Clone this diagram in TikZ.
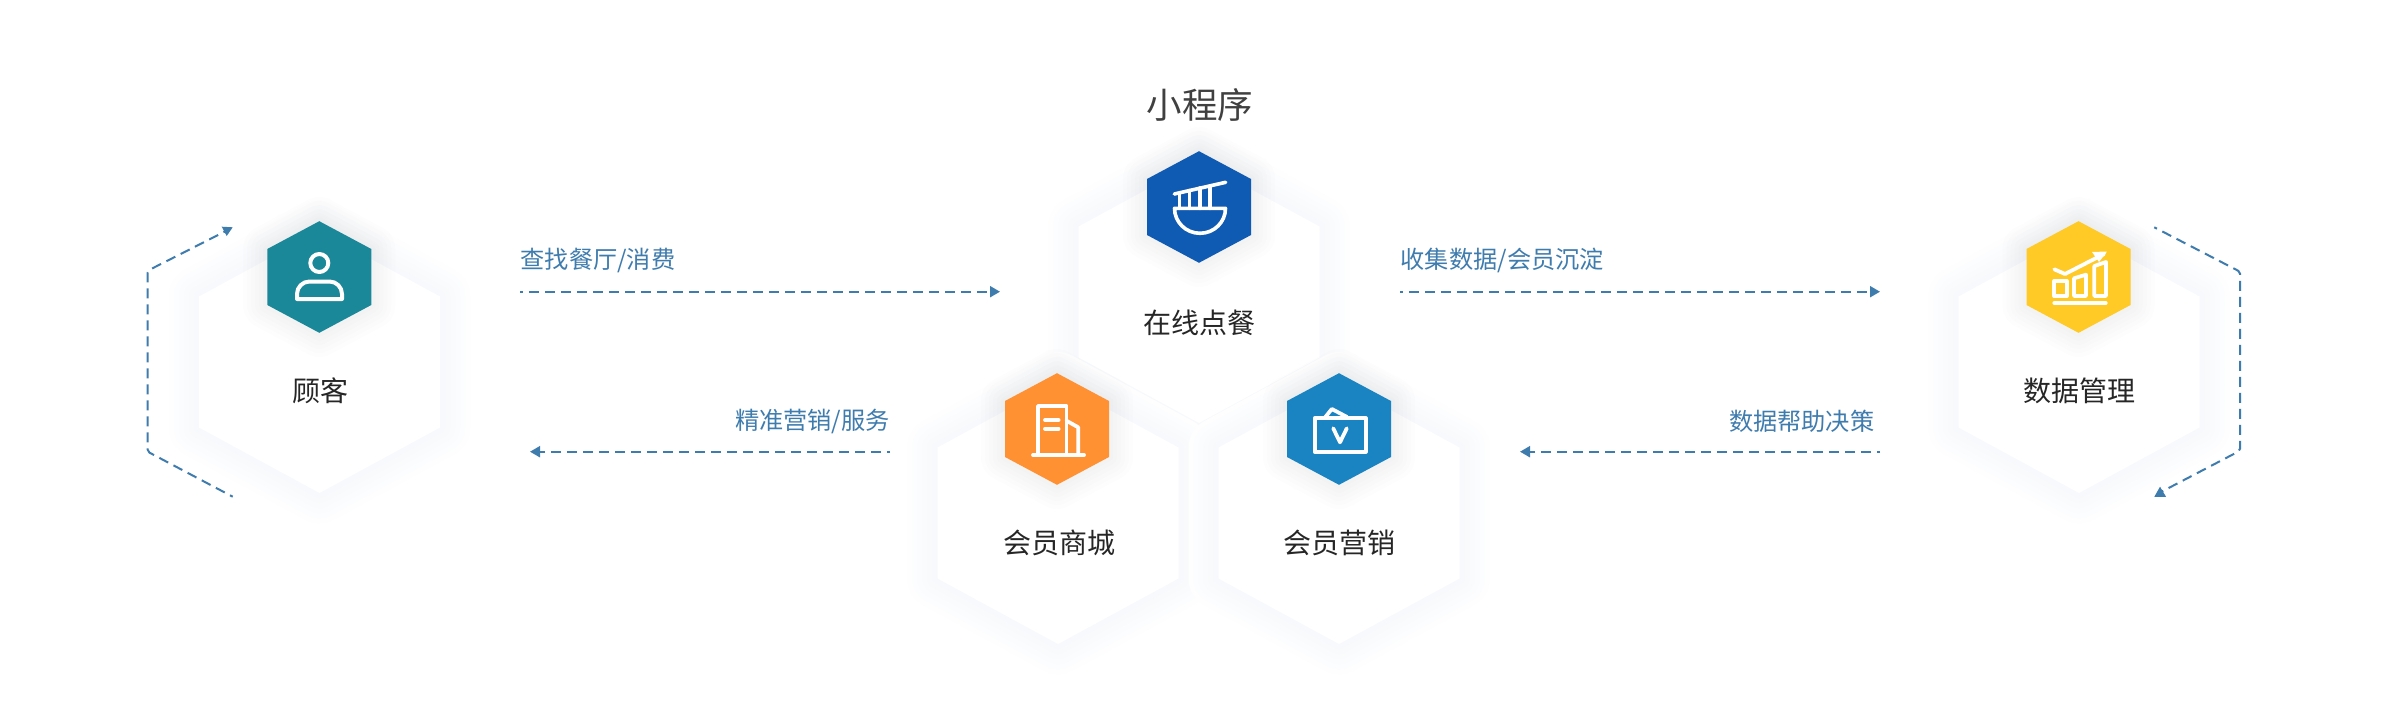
\documentclass[tikz,border=0pt]{standalone}
\usepackage{fontspec}
\setmainfont{Noto Sans CJK SC}
\usetikzlibrary{arrows.meta}
\definecolor{flow}{HTML}{3F7CAE}
\definecolor{ink}{HTML}{262626}
\definecolor{headc}{HTML}{404040}
\definecolor{bsa}{HTML}{FEFEFF}
\definecolor{bsb}{HTML}{FCFDFE}
\definecolor{bsc}{HTML}{FBFCFE}
\definecolor{bsd}{HTML}{FAFBFD}
\definecolor{bse}{HTML}{F8FAFC}
\definecolor{bsf}{HTML}{F7F9FC}
\definecolor{smallsh}{HTML}{6C7688}
\definecolor{cTeal}{HTML}{1A8899}
\definecolor{cNavy}{HTML}{0F5AB2}
\definecolor{cOrange}{HTML}{FF9133}
\definecolor{cBlue}{HTML}{1A83C1}
\definecolor{cYellow}{HTML}{FFC926}
\tikzset{
  flowline/.style={draw=flow,line width=2pt,dash pattern=on 10pt off 6pt,dash phase=7pt},
  flowarrow/.style={flowline,-{Triangle[length=10pt,width=11pt,fill=flow]}},
  fliptip/.style={fill=flow,draw=none},
  flowlabel/.style={text=flow,font=\fontsize{24.2}{25}\selectfont,inner sep=0pt},
  hexlabel/.style={text=ink,font=\fontsize{28}{29}\selectfont,inner sep=0pt},
  headlabel/.style={text=headc,font=\fontsize{35.5}{36}\selectfont,inner sep=0pt},
  iconline/.style={draw=white,line width=3.4pt,line cap=round,line join=round},
}
\newcommand{\bighexpath}[1]{(#1)++(0,-131)--++(120.5,65.5)--++(0,131)--++(-120.5,65.5)--++(-120.5,-65.5)--++(0,-131)--cycle}
\newcommand{\smallhexpath}[1]{(#1)++(0,-55.8)--++(52,27.8)--++(0,56)--++(-52,27.8)--++(-52,-27.8)--++(0,-56)--cycle}
\newcommand{\bigshadow}[1]{%
  \begin{scope}[yshift=-6pt]
    \foreach \r/\c in {30/bsa,25/bsb,20/bsc,15/bsd,10/bse,5/bsf}{\draw[\c,line width=2*\r pt,line join=round] \bighexpath{#1};}
  \end{scope}}
\newcommand{\bighex}[1]{\fill[white] \bighexpath{#1};}
\newcommand{\smallhex}[2]{%
  \begin{scope}[yshift=-6pt]
    \foreach \r in {4,8,...,24}{\draw[smallsh,opacity=0.012,line width=2*\r pt,line join=round] \smallhexpath{#1};}
  \end{scope}
  \fill[#2] \smallhexpath{#1};}
\begin{document}
\begin{tikzpicture}[x=1pt,y=-1pt]
\useasboundingbox[fill=white] (0,0) rectangle (2400,720);
% centres
\coordinate (bCust) at (319.5,362);
\coordinate (bOnline) at (1199,292);
\coordinate (bShop) at (1058,513);
\coordinate (bMark) at (1339,513);
\coordinate (bData) at (2079,362);
\coordinate (sCust) at (319.3,277);
\coordinate (sOnline) at (1199,207);
\coordinate (sShop) at (1057,429);
\coordinate (sMark) at (1339,429);
\coordinate (sData) at (2078.5,277);
% big hexagons: soft shadows first, then the white faces
\bigshadow{bOnline}
\bigshadow{bShop}
\bigshadow{bMark}
\bigshadow{bCust}
\bigshadow{bData}
\bighex{bOnline}
\bighex{bShop}
\bighex{bMark}
\bighex{bCust}
\bighex{bData}
% icon hexagons
\smallhex{sOnline}{cNavy}
\smallhex{sShop}{cOrange}
\smallhex{sMark}{cBlue}
\smallhex{sCust}{cTeal}
\smallhex{sData}{cYellow}
% labels
\node[headlabel] (head) at (1200,105) {小程序};
\node[hexlabel] (lCust) at (320,391) {顾客};
\node[hexlabel] (lOnline) at (1199,323) {在线点餐};
\node[hexlabel] (lShop) at (1059.5,543) {会员商城};
\node[hexlabel] (lMark) at (1339.5,543) {会员营销};
\node[hexlabel] (lData) at (2079,391) {数据管理};
\node[flowlabel,anchor=west] (t1) at (520.5,260.5) {查找餐厅/消费};
\node[flowlabel,anchor=east] (t2) at (890,421) {精准营销/服务};
\node[flowlabel,anchor=west] (t3) at (1400.5,260.5) {收集数据/会员沉淀};
\node[flowlabel,anchor=east] (t4) at (1874.5,421) {数据帮助决策};
% connector ends
\coordinate (a1s) at (520,291.7);
\coordinate (a1e) at (1000,291.7);
\coordinate (a2s) at (890,451.7);
\coordinate (a2e) at (530,451.7);
\coordinate (a3s) at (1400,291.7);
\coordinate (a3e) at (1880,291.7);
\coordinate (a4s) at (1880,451.7);
\coordinate (a4e) at (1520,451.7);
\draw[flowarrow] (a1s) -- (a1e);
\draw[flowarrow] (a2s) -- (a2e);
\draw[flowarrow] (a3s) -- (a3e);
\draw[flowarrow] (a4s) -- (a4e);
% side loops
\coordinate (ls) at (232.7,496.7);
\coordinate (l1) at (147.7,451.7);
\coordinate (l2) at (147.7,270.7);
\coordinate (le) at (226,231);
\coordinate (rs) at (2154.3,227.3);
\coordinate (r1) at (2240,271.7);
\coordinate (r2) at (2240,450.7);
\coordinate (re) at (2161,492);
\draw[flowline,rounded corners=2pt] (ls) -- (l1) -- (l2) -- (le);
\fill[fliptip] (221.7,226.7) -- (232.7,227.3) -- (226.7,236) -- cycle;
\draw[flowline,rounded corners=2pt] (rs) -- (r1) -- (r2) -- (re);
\fill[fliptip] (2160,486.7) -- (2154.3,496.8) -- (2166,496.8) -- cycle;
% person icon
\draw[iconline,line width=4pt] (319.3,263) circle (9);
\draw[iconline,line width=4pt] (297,299) -- (297,294) arc[start angle=180,end angle=270,radius=12.5] -- (329.5,281.5) arc[start angle=270,end angle=360,radius=12.5] -- (342,299) -- cycle;
% bowl icon
\begin{scope}[iconline,line width=3.6pt]
\draw (1174.3,194) -- (1225.7,182.3);
\draw (1179.5,193) -- (1179.5,208.3) (1189.5,190.5) -- (1189.5,208.3) (1200,188) -- (1200,208.3) (1210,186) -- (1210,208.3);
\draw (1174.5,208.3) -- (1225.5,208.3) arc[start angle=0,end angle=180,x radius=25.5,y radius=25] -- cycle;
\end{scope}
% building icon
\begin{scope}[iconline,line width=3.8pt]
\draw (1033,455) -- (1084,455);
\draw (1038,455) -- (1038,406) -- (1066.4,406) -- (1066.4,455);
\draw (1066.4,420.7) -- (1078.2,427.3) -- (1078.2,455);
\draw (1045,420) -- (1058.6,420) (1045,428.7) -- (1058.6,428.7);
\end{scope}
% wallet icon
\begin{scope}[iconline,line width=3.8pt]
\draw (1314.6,418.3) rectangle (1365.7,451.7);
\draw (1325.4,417) -- (1331.8,409) -- (1347,417);
\draw (1333.2,428.3) -- (1340,442.3) -- (1346.8,428.3);
\end{scope}
% chart icon
\begin{scope}[iconline,line width=3.8pt]
\draw (2054.3,303) -- (2105.7,303);
\draw (2054.3,296) -- (2054.3,281) -- (2066.7,281) -- (2066.7,296) -- cycle;
\draw (2074,296) -- (2074,278.3) -- (2086,274.7) -- (2086,296) -- cycle;
\draw (2094.3,296) -- (2094.3,266) -- (2106,262) -- (2106,296) -- cycle;
\draw (2054.3,269.3) -- (2065,274) -- (2104,254);
\end{scope}
\fill[white] (2092,252) -- (2107,251.5) -- (2099,262) -- cycle;
\end{tikzpicture}
\end{document}
